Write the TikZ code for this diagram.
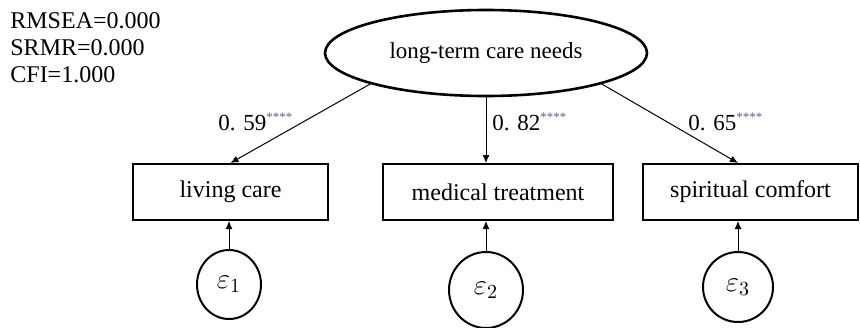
\documentclass[tikz,border=0pt]{standalone}
\usepackage{fontspec}
\setmainfont{Liberation Serif}
\usetikzlibrary{arrows.meta,shapes.geometric}
\definecolor{stargray}{RGB}{85,100,135}
\tikzset{
  latent node/.style={
    ellipse,
    draw=black,
    line width=1.3pt,
    minimum width=161pt,
    minimum height=43pt,
    inner sep=0pt,
    font=\fontsize{11.5}{14}\selectfont
  },
  observed node/.style={
    rectangle,
    draw=black,
    line width=1pt,
    minimum height=28pt,
    inner sep=0pt,
    font=\fontsize{12}{14}\selectfont
  },
  error node/.style={ellipse,draw=black,line width=1pt,inner sep=0pt,font=\fontsize{14}{16}\selectfont},
  fit label/.style={anchor=base west,inner sep=0pt,font=\fontsize{12}{14}\selectfont},
  load label/.style={anchor=west,inner sep=0pt,font=\fontsize{11.5}{13}\selectfont},
  load/.style={-{Latex[length=4pt,width=3.5pt]},line width=0.5pt,draw=black}
}
\newcommand{\loadvalue}[1]{#1\raisebox{4.5pt}{\textcolor{stargray}{\fontsize{6.5}{6}\selectfont ****}}}

\begin{document}
\begin{tikzpicture}[x=0.5pt,y=-0.5pt]
  \useasboundingbox (0,0) rectangle (860,327);

  \foreach \txt [count=\i] in {RMSEA=0.000,SRMR=0.000,CFI=1.000} {
    \node[fit label] (fit\i) at (10,{1+27*\i}) {\txt};
  }

  \node[latent node] (needs) at (486,53) {long-term care needs};

  \node[observed node,minimum width=97.5pt] (living) at (230.5,192) {living care};
  \node[observed node,minimum width=115pt] (medical) at (498,192) {medical treatment};
  \node[observed node,minimum width=107.5pt] (spiritual) at (750.5,192) {spiritual comfort};

  \node[error node,minimum width=32pt,minimum height=34.5pt] (eps1) at (229,284.5) {$\varepsilon_1$};
  \node[error node,minimum width=37pt,minimum height=38pt] (eps2) at (486,290) {$\varepsilon_2$};
  \node[error node,minimum width=35pt,minimum height=35pt] (eps3) at (738,287) {$\varepsilon_3$};

  \draw[load] (needs.195) -- (living.north);
  \draw[load] (needs.south) -- (needs.south |- medical.north);
  \draw[load] (needs.-15) -- (eps3 |- spiritual.north);

  \draw[load] (eps1.north) -- (eps1 |- living.south);
  \draw[load] (eps2.north) -- (eps2 |- medical.south);
  \draw[load] (eps3.north) -- (eps3 |- spiritual.south);

  \node[load label] (l1) at (218,122) {\loadvalue{0. 59}};
  \node[load label] (l2) at (492,122) {\loadvalue{0. 82}};
  \node[load label] (l3) at (688,122) {\loadvalue{0. 65}};

\end{tikzpicture}
\end{document}
